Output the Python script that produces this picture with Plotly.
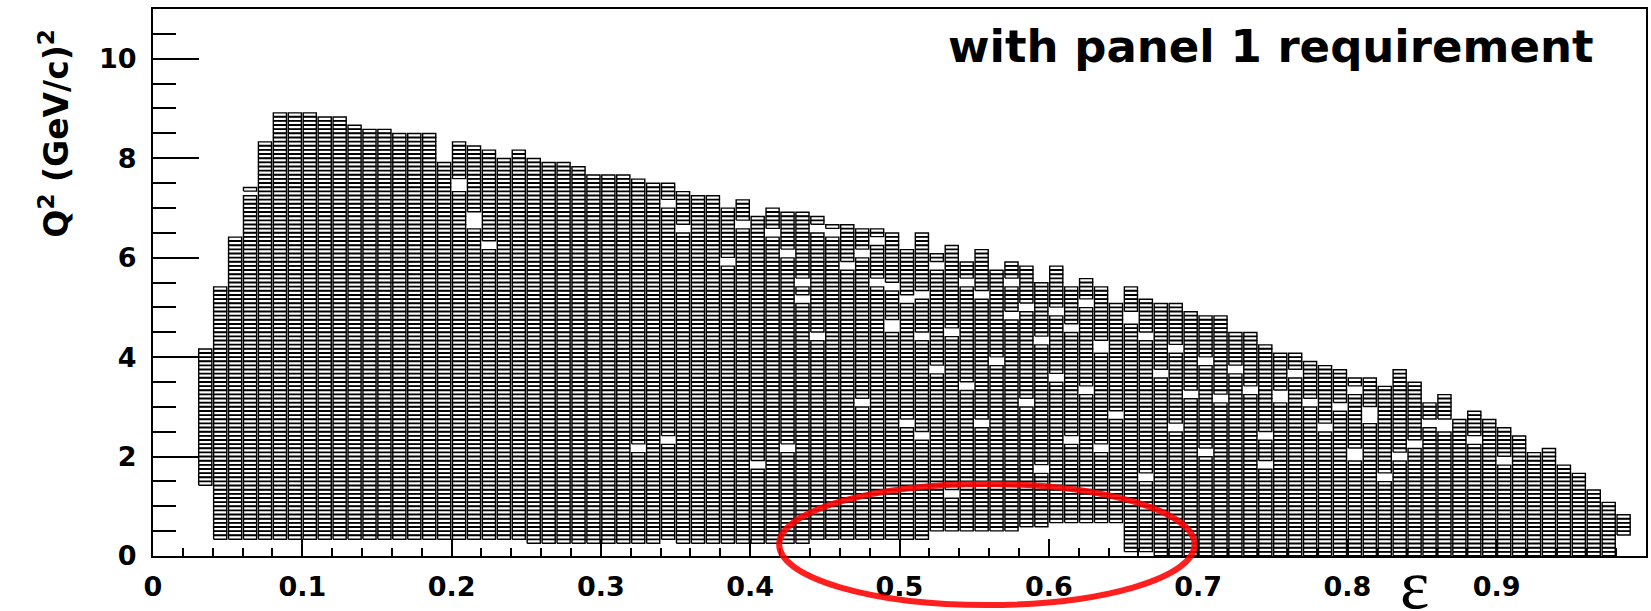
import plotly.graph_objects as go

# ---- histogram binning -------------------------------------------------
EPS_BIN_WIDTH = 0.01          # epsilon bin width
Q2_BIN_WIDTH = 11.0 / 132     # Q^2 bin width (GeV/c)^2
BOX_SCALE = 0.88              # relative box size inside each bin

# lower edge of every populated epsilon column
eps_lo = [0.03, 0.04, 0.05, 0.06, 0.07, 0.08, 0.09, 0.10, 0.11, 0.12,
          0.13, 0.14, 0.15, 0.16, 0.17, 0.18, 0.19, 0.20, 0.21, 0.22,
          0.23, 0.24, 0.25, 0.26, 0.27, 0.28, 0.29, 0.30, 0.31, 0.32,
          0.33, 0.34, 0.35, 0.36, 0.37, 0.38, 0.39, 0.40, 0.41, 0.42,
          0.43, 0.44, 0.45, 0.46, 0.47, 0.48, 0.49, 0.50, 0.51, 0.52,
          0.53, 0.54, 0.55, 0.56, 0.57, 0.58, 0.59, 0.60, 0.61, 0.62,
          0.63, 0.64, 0.65, 0.66, 0.67, 0.68, 0.69, 0.70, 0.71, 0.72,
          0.73, 0.74, 0.75, 0.76, 0.77, 0.78, 0.79, 0.80, 0.81, 0.82,
          0.83, 0.84, 0.85, 0.86, 0.87, 0.88, 0.89, 0.90, 0.91, 0.92,
          0.93, 0.94, 0.95, 0.96, 0.97, 0.98]

# first filled Q^2 bin of each column
q2_lo_bin = [17,
             4, 4, 4, 4, 4, 4, 4, 4, 4, 4, 4, 4, 4, 4, 4, 4, 4, 4, 4, 4, 4,
             3, 3, 3, 3, 3, 3, 3, 3, 3,
             4,
             3, 3, 3, 3, 3, 3, 3, 3, 3,
             4, 4, 4, 4, 4, 4, 4, 4,
             6, 6, 6, 6, 6, 6,
             7, 7,
             8, 8, 8, 8, 8,
             1, 1,
             0, 0, 0, 0, 0, 0, 0, 0, 0, 0, 0, 0, 0, 0, 0, 0,
             0, 0, 0, 0, 0, 0, 0, 0, 0, 0, 0, 0, 0, 0, 0,
             5]

# upper edge (exclusive bin index) of each column
q2_hi_bin = [50, 65, 77, 89, 100, 107, 107, 107, 106, 106,
             104, 103, 103, 102, 102, 102, 95, 100, 99, 98,
             96, 98, 96, 95, 95, 94, 92, 92, 92, 91,
             90, 90, 88, 87, 87, 84, 86, 82, 84, 83,
             83, 82, 80, 80, 79, 79, 78, 74, 78, 73,
             75, 71, 74, 71, 71, 70, 66, 70, 65, 67,
             65, 61, 65, 62, 61, 61, 59, 58, 58, 54,
             54, 51, 49, 49, 47, 46, 45, 43, 43, 41,
             45, 42, 37, 39, 33, 35, 33, 31, 29, 25,
             26, 22, 20, 16, 13, 10]

# bins with no entries inside the populated region: (epsilon column, Q^2 bin)
empty_cells = [
    (0.06, 87),
    (0.20, 88), (0.20, 89), (0.20, 90),
    (0.21, 79), (0.21, 80), (0.21, 81), (0.21, 82),
    (0.22, 74), (0.22, 75),
    (0.32, 25), (0.32, 26),
    (0.34, 84), (0.34, 85), (0.34, 27), (0.34, 28),
    (0.35, 78), (0.35, 79),
    (0.38, 70), (0.38, 71),
    (0.39, 79), (0.39, 80),
    (0.40, 21), (0.40, 22),
    (0.41, 77), (0.41, 78),
    (0.42, 72), (0.42, 73), (0.42, 25), (0.42, 26),
    (0.43, 65), (0.43, 66), (0.43, 61), (0.43, 62),
    (0.44, 78), (0.44, 79), (0.44, 52), (0.44, 53),
    (0.45, 77), (0.45, 78),
    (0.46, 69), (0.46, 70),
    (0.47, 72), (0.47, 73), (0.47, 36), (0.47, 37),
    (0.48, 75), (0.48, 76), (0.48, 65), (0.48, 66),
    (0.49, 64), (0.49, 65), (0.49, 54), (0.49, 55), (0.49, 56),
    (0.50, 31), (0.50, 32), (0.50, 61), (0.50, 62),
    (0.51, 62), (0.51, 63), (0.51, 52), (0.51, 53), (0.51, 28), (0.51, 29),
    (0.52, 69), (0.52, 70), (0.52, 44), (0.52, 45),
    (0.53, 53), (0.53, 54), (0.53, 14), (0.53, 15),
    (0.54, 65), (0.54, 66), (0.54, 40), (0.54, 41),
    (0.55, 62), (0.55, 63), (0.55, 31), (0.55, 32),
    (0.56, 69), (0.56, 70), (0.56, 46), (0.56, 47),
    (0.57, 65), (0.57, 66), (0.57, 57), (0.57, 58),
    (0.58, 59), (0.58, 60), (0.58, 36), (0.58, 37),
    (0.59, 51), (0.59, 52), (0.59, 20), (0.59, 21),
    (0.60, 58), (0.60, 59), (0.60, 42), (0.60, 43),
    (0.61, 54), (0.61, 55), (0.61, 27), (0.61, 28),
    (0.62, 39), (0.62, 40), (0.62, 60), (0.62, 61),
    (0.63, 49), (0.63, 50), (0.63, 51), (0.63, 25), (0.63, 26),
    (0.64, 33), (0.64, 34),
    (0.65, 56), (0.65, 57), (0.65, 58),
    (0.66, 52), (0.66, 53), (0.66, 18), (0.66, 19),
    (0.67, 43), (0.67, 44),
    (0.68, 49), (0.68, 50), (0.68, 30), (0.68, 31),
    (0.69, 38), (0.69, 39),
    (0.70, 46), (0.70, 47), (0.70, 24), (0.70, 25),
    (0.71, 37), (0.71, 38),
    (0.72, 44), (0.72, 45),
    (0.73, 39), (0.73, 40),
    (0.74, 28), (0.74, 29), (0.74, 21), (0.74, 22),
    (0.75, 37), (0.75, 38), (0.75, 39),
    (0.76, 43), (0.76, 44),
    (0.77, 36), (0.77, 37),
    (0.78, 30), (0.78, 31),
    (0.79, 35), (0.79, 36),
    (0.80, 23), (0.80, 24), (0.80, 25), (0.80, 39), (0.80, 40),
    (0.81, 32), (0.81, 33), (0.81, 34), (0.81, 35),
    (0.82, 18), (0.82, 19),
    (0.83, 23), (0.83, 24),
    (0.84, 26), (0.84, 27),
    (0.85, 31), (0.85, 32),
    (0.86, 30), (0.86, 31), (0.86, 32),
    (0.88, 27), (0.88, 28),
    (0.90, 22), (0.90, 23),
]

# ---- build box outlines (one closed rectangle per filled bin) ----------
empty = set(empty_cells)
box_x, box_y = [], []
half_w = EPS_BIN_WIDTH * BOX_SCALE / 2
half_h = Q2_BIN_WIDTH * BOX_SCALE / 2
for e, lo, hi in zip(eps_lo, q2_lo_bin, q2_hi_bin):
    cx = e + EPS_BIN_WIDTH / 2
    for k in range(lo, hi):
        if (e, k) in empty:
            continue
        cy = (k + 0.5) * Q2_BIN_WIDTH
        box_x += [cx - half_w, cx + half_w, cx + half_w, cx - half_w, cx - half_w, None]
        box_y += [cy - half_h, cy - half_h, cy + half_h, cy + half_h, cy - half_h, None]

fig = go.Figure(go.Scatter(
    x=box_x, y=box_y, mode="lines",
    line=dict(color="black", width=1.4),
    hoverinfo="skip", showlegend=False,
))

tick_font = dict(family="DejaVu Sans", size=27, color="black", weight="bold")

fig.update_layout(
    width=1651, height=611,
    margin=dict(l=153, r=3, t=9, b=55),
    paper_bgcolor="white", plot_bgcolor="white",
    showlegend=False,
    xaxis=dict(
        range=[0, 1], tickmode="linear", tick0=0, dtick=0.1,
        ticks="inside", ticklen=17, tickwidth=1.8, tickcolor="black",
        minor=dict(ticks="inside", ticklen=8, dtick=0.02, tick0=0,
                   tickwidth=1.8, tickcolor="black", showgrid=False),
        showline=True, linecolor="black", linewidth=2.2, mirror=True,
        showgrid=False, zeroline=False,
        tickfont=tick_font, ticklabelstandoff=5,
    ),
    yaxis=dict(
        range=[0, 11], tickmode="linear", tick0=0, dtick=2,
        ticks="inside", ticklen=46, tickwidth=1.8, tickcolor="black",
        minor=dict(ticks="inside", ticklen=23, dtick=0.5, tick0=0,
                   tickwidth=1.8, tickcolor="black", showgrid=False),
        showline=True, linecolor="black", linewidth=2.2, mirror=True,
        showgrid=False, zeroline=False,
        tickfont=tick_font, ticklabelstandoff=9,
    ),
)

# axis titles and label
fig.add_annotation(
    text="Q<sup>2</sup> (GeV/c)<sup>2</sup>", textangle=-90,
    xref="paper", yref="paper", x=-0.066, y=0.773,
    xanchor="center", yanchor="middle", showarrow=False,
    font=dict(family="DejaVu Sans", size=33, color="black", weight="bold"),
)
fig.add_annotation(
    text="ε", xref="paper", yref="paper", x=0.845, y=-0.053,
    xanchor="center", yanchor="middle", showarrow=False,
    font=dict(family="Liberation Serif", size=70, color="black"),
)
fig.add_annotation(
    text="with panel 1 requirement", xref="paper", yref="paper",
    x=0.7485, y=0.932, xanchor="center", yanchor="middle", showarrow=False,
    font=dict(family="DejaVu Sans", size=45, color="black", weight="bold"),
)

# highlighted low-Q^2 gap
fig.add_shape(
    type="circle", xref="paper", yref="paper",
    x0=0.4194, x1=0.6977, y0=0.1316, y1=-0.0896,
    line=dict(color="rgba(255,0,0,0.88)", width=6),
)

fig.write_html("out.html")
